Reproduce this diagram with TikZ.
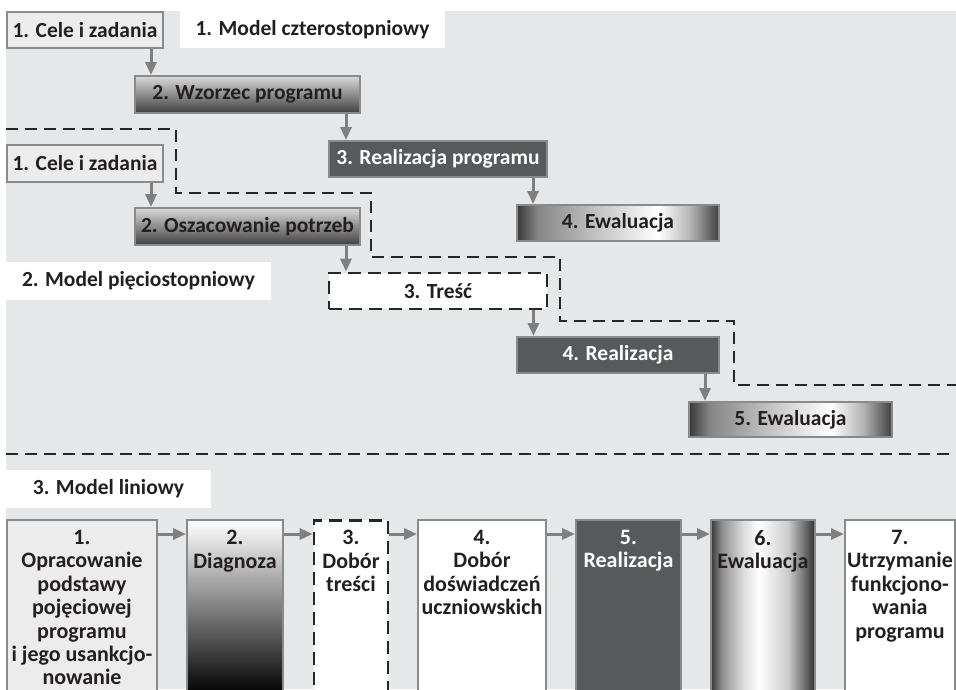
\documentclass[tikz,border=0pt]{standalone}
\usepackage{fontspec}
\setmainfont{Carlito}
\usetikzlibrary{arrows.meta}

\definecolor{bggray}{HTML}{E6E7E8}
\definecolor{boxline}{HTML}{8A8A8A}
\definecolor{boxlight}{HTML}{ECECEC}
\definecolor{boxdark}{HTML}{58595B}
\definecolor{arrgray}{HTML}{7F7F7F}
\definecolor{txt}{HTML}{231F20}

% cylinder-like shadings (dark edges, bright band)
\pgfdeclarehorizontalshading{cylA}{100bp}{color(0bp)=(black!78); color(25bp)=(black!78);
  color(30bp)=(black!48); color(42bp)=(black!28); color(60bp)=(white);
  color(68bp)=(black!30); color(75bp)=(black!75); color(100bp)=(black!75)}
\pgfdeclarehorizontalshading{cylB}{100bp}{color(0bp)=(black!78); color(25bp)=(black!78);
  color(30bp)=(black!45); color(40bp)=(black!15); color(48bp)=(white);
  color(62bp)=(black!20); color(75bp)=(black!80); color(100bp)=(black!80)}

\tikzset{
  box/.style={draw=boxline, line width=2pt, text=txt, inner sep=0pt,
    font=\fontsize{21.5}{24}\selectfont\bfseries},
  lightbox/.style={box, fill=boxlight},
  darkbox/.style={box, fill=boxdark, text=white},
  fadebox/.style={box, top color=black!15, bottom color=black!75},
  cylbox/.style={box, shading=cylA},
  dashbox/.style={box, fill=white, draw=black!85, line width=2.8pt,
    dash pattern=on 13pt off 7pt},
  title/.style={fill=white, text=txt, inner sep=0pt,
    font=\fontsize{21.5}{24}\selectfont\bfseries},
  arr/.style={draw=arrgray, line width=3pt, -{Triangle[length=13pt,width=11pt]}},
  stair/.style={draw=black!85, line width=1.3pt, dash pattern=on 12pt off 7pt},
  colbox/.style={draw=boxline, line width=2pt, anchor=north, minimum height=180pt},
  coltext/.style={anchor=north, align=center, text=txt, inner sep=0pt, yshift=-11pt,
    font=\fontsize{22}{23.4}\selectfont\bfseries},
}

\begin{document}
\begin{tikzpicture}[x=1pt, y=-1pt]
  \useasboundingbox (0,0) rectangle (956,689);
  \clip (0,0) rectangle (956,689);
  \fill[bggray] (6,11) rectangle (956,689);

  % 1. Model czterostopniowy
  \node[title, minimum width=265pt, minimum height=37pt] (t1) at (312.5,29.5) {1. Model czterostopniowy};
  \node[lightbox, minimum width=156pt, minimum height=36pt] (a1) at (85,30) {1. Cele i zadania};
  \node[fadebox, minimum width=225pt, minimum height=37pt] (a2) at (247.5,94.5) {2. Wzorzec programu};
  \node[darkbox, minimum width=218pt, minimum height=36pt] (a3) at (438,159) {3. Realizacja programu};
  \node[cylbox, minimum width=202pt, minimum height=36pt] (a4) at (618,223) {4. Ewaluacja};
  \draw[arr] ([xshift=-13pt]a1.south east) -- ([xshift=-13pt]a1.south east |- a2.north);
  \draw[arr] ([xshift=-15pt]a2.south east) -- ([xshift=-15pt]a2.south east |- a3.north);
  \draw[arr] ([xshift=-15pt]a3.south east) -- ([xshift=-15pt]a3.south east |- a4.north);

  \draw[stair] (6,129) -- (176,129) -- (176,193) -- (371,193) -- (371,257)
    -- (560,257) -- (560,321) -- (734,321) -- (734,385) -- (956,385);

  % 2. Model pieciostopniowy
  \node[title, minimum width=265pt, minimum height=38pt] (t2) at (138.5,281) {2. Model pięciostopniowy};
  \node[lightbox, minimum width=156pt, minimum height=37pt] (b1) at (85,163.5) {1. Cele i zadania};
  \node[fadebox, minimum width=225pt, minimum height=37pt] (b2) at (247.5,226.5) {2. Oszacowanie potrzeb};
  \node[dashbox, minimum width=218pt, minimum height=36pt] (b3) at (438,291) {3. Treść};
  \node[darkbox, minimum width=202pt, minimum height=36pt] (b4) at (618,355) {4. Realizacja};
  \node[cylbox, minimum width=203pt, minimum height=35pt] (b5) at (790.5,419.5) {5. Ewaluacja};
  \draw[arr] ([xshift=-13pt]b1.south east) -- ([xshift=-13pt]b1.south east |- b2.north);
  \draw[arr] ([xshift=-15pt]b2.south east) -- ([xshift=-15pt]b2.south east |- b3.north);
  \draw[arr] ([xshift=-15pt]b3.south east) -- ([xshift=-15pt]b3.south east |- b4.north);
  \draw[arr] ([xshift=-15pt]b4.south east) -- ([xshift=-15pt]b4.south east |- b5.north);

  \draw[stair] (6,454) -- (956,454);

  % 3. Model liniowy
  \node[title, minimum width=205pt, minimum height=38pt] (t3) at (108.5,489) {3. Model liniowy};
  \node[colbox, fill=boxlight, minimum width=150pt] (c1) at (82,519) {};
  \node[colbox, top color=white, bottom color=black, minimum width=96pt, minimum height=175pt] (c2) at (235,519) {};
  \node[colbox, fill=white, draw=black!85, line width=2.8pt, dash pattern=on 13pt off 7pt,
    minimum width=74pt] (c3) at (351,519) {};
  \node[colbox, fill=white, minimum width=128pt] (c4) at (482,519) {};
  \node[colbox, fill=boxdark, minimum width=105pt] (c5) at (628.5,519) {};
  \node[colbox, shading=cylB, minimum width=104pt] (c6) at (763,519) {};
  \node[colbox, fill=white, minimum width=110pt] (c7) at (900,519) {};

  \node[coltext] (l1) at (c1.north) {1.\\Opracowanie\\podstawy\\pojęciowej\\programu\\i jego usankcjo-\\nowanie};
  \node[coltext] (l2) at (c2.north) {2.\\Diagnoza};
  \node[coltext] (l3) at (c3.north) {3.\\Dobór\\treści};
  \node[coltext] (l4) at (c4.north) {4.\\Dobór\\doświadczeń\\uczniowskich};
  \node[coltext, text=white] (l5) at (c5.north) {5.\\Realizacja};
  \node[coltext] (l6) at (c6.north) {6.\\Ewaluacja};
  \node[coltext] (l7) at (c7.north) {7.\\Utrzymanie\\funkcjono-\\wania\\programu};

  \foreach \i/\j in {c1/c2, c2/c3, c3/c4, c4/c5, c5/c6, c6/c7}
    \draw[arr] ([yshift=-15pt]\i.north east) -- ([yshift=-15pt]\i.north east -| \j.west);
\end{tikzpicture}
\end{document}
